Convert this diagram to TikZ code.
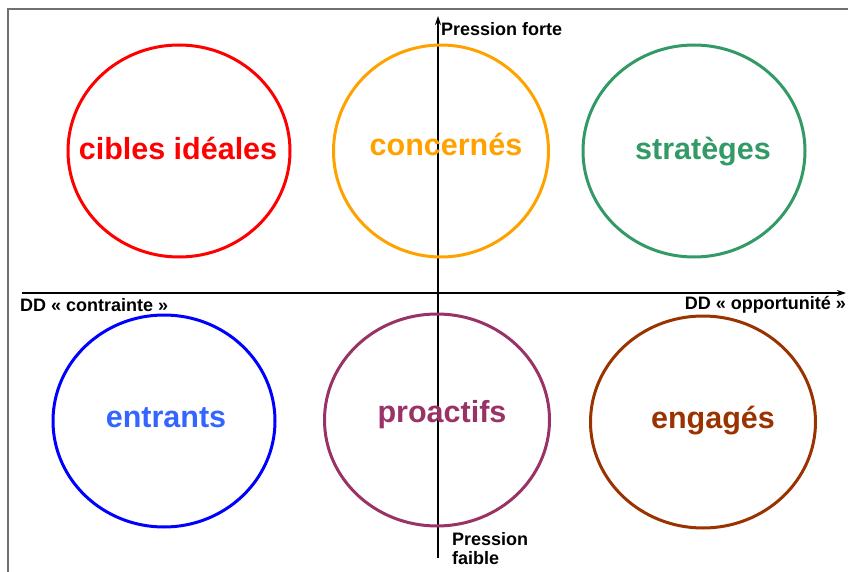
\documentclass[tikz,border=0pt]{standalone}
\usepackage{fontspec}
\setmainfont{Liberation Sans}
\usetikzlibrary{shapes.geometric, arrows.meta}
\definecolor{rouge}{HTML}{FF0000}
\definecolor{jaune}{HTML}{FFA200}
\definecolor{vert}{HTML}{339966}
\definecolor{bleu}{HTML}{0000FF}
\definecolor{bleuclair}{HTML}{3366FF}
\definecolor{prune}{HTML}{993366}
\definecolor{brun}{HTML}{993300}
\definecolor{cadre}{HTML}{707070}

\begin{document}
\begin{tikzpicture}[x=1pt, y=-1pt,
    quad/.style={ellipse, line width=3pt, minimum width=222pt, minimum height=212pt, inner sep=0pt},
    nom/.style={anchor=base, inner sep=0pt, font=\fontsize{30.5}{36}\selectfont\bfseries},
    axe/.style={black, line width=1.4pt, -{Stealth[length=9pt, width=6pt]}},
    lbl/.style={black, inner sep=0pt, font=\fontsize{18}{20}\selectfont\bfseries}]
    \useasboundingbox (0,0) rectangle (848,572);
    \draw[cadre, line width=1.8pt] (8,572) -- (8,9) -- (848,9);
    %
    \coordinate (gauche) at (22,293);
    \coordinate (droite) at (846,293);
    \coordinate (bas) at (438,558);
    \coordinate (haut) at (438,16);
    \draw[axe] (gauche) -- (droite);
    \draw[axe] (bas) -- (haut);
    %
    \node[lbl, anchor=west] (forte) at (441,29) {Pression forte};
    \node[lbl, anchor=west] (contrainte) at (20,305) {DD « contrainte »};
    \node[lbl, anchor=east] (opportunite) at (846,305) {DD « opportunité »};
    \node[lbl, anchor=north west, align=left] (faible) at (452,532) {Pression\\[-1pt]faible};
    %
    \node[quad, draw=rouge] (cibles) at (179,151) {};
    \node[quad, draw=jaune, minimum width=215pt] (concernes) at (441,151) {};
    \node[quad, draw=vert] (strateges) at (694,151) {};
    \node[quad, draw=bleu] (entrants) at (164,421) {};
    \node[quad, draw=prune, minimum width=225pt] (proactifs) at (437,420) {};
    \node[quad, draw=brun, minimum width=225pt] (engages) at (703,422) {};
    %
    \node[nom, text=rouge] (t-cibles) at (178,160) {cibles idéales};
    \node[nom, text=jaune] (t-concernes) at (446,156) {concernés};
    \node[nom, text=vert] (t-strateges) at (703,160) {stratèges};
    \node[nom, text=bleuclair] (t-entrants) at (166,427) {entrants};
    \node[nom, text=prune] (t-proactifs) at (442,422) {proactifs};
    \node[nom, text=brun] (t-engages) at (713,428) {engagés};
\end{tikzpicture}
\end{document}
